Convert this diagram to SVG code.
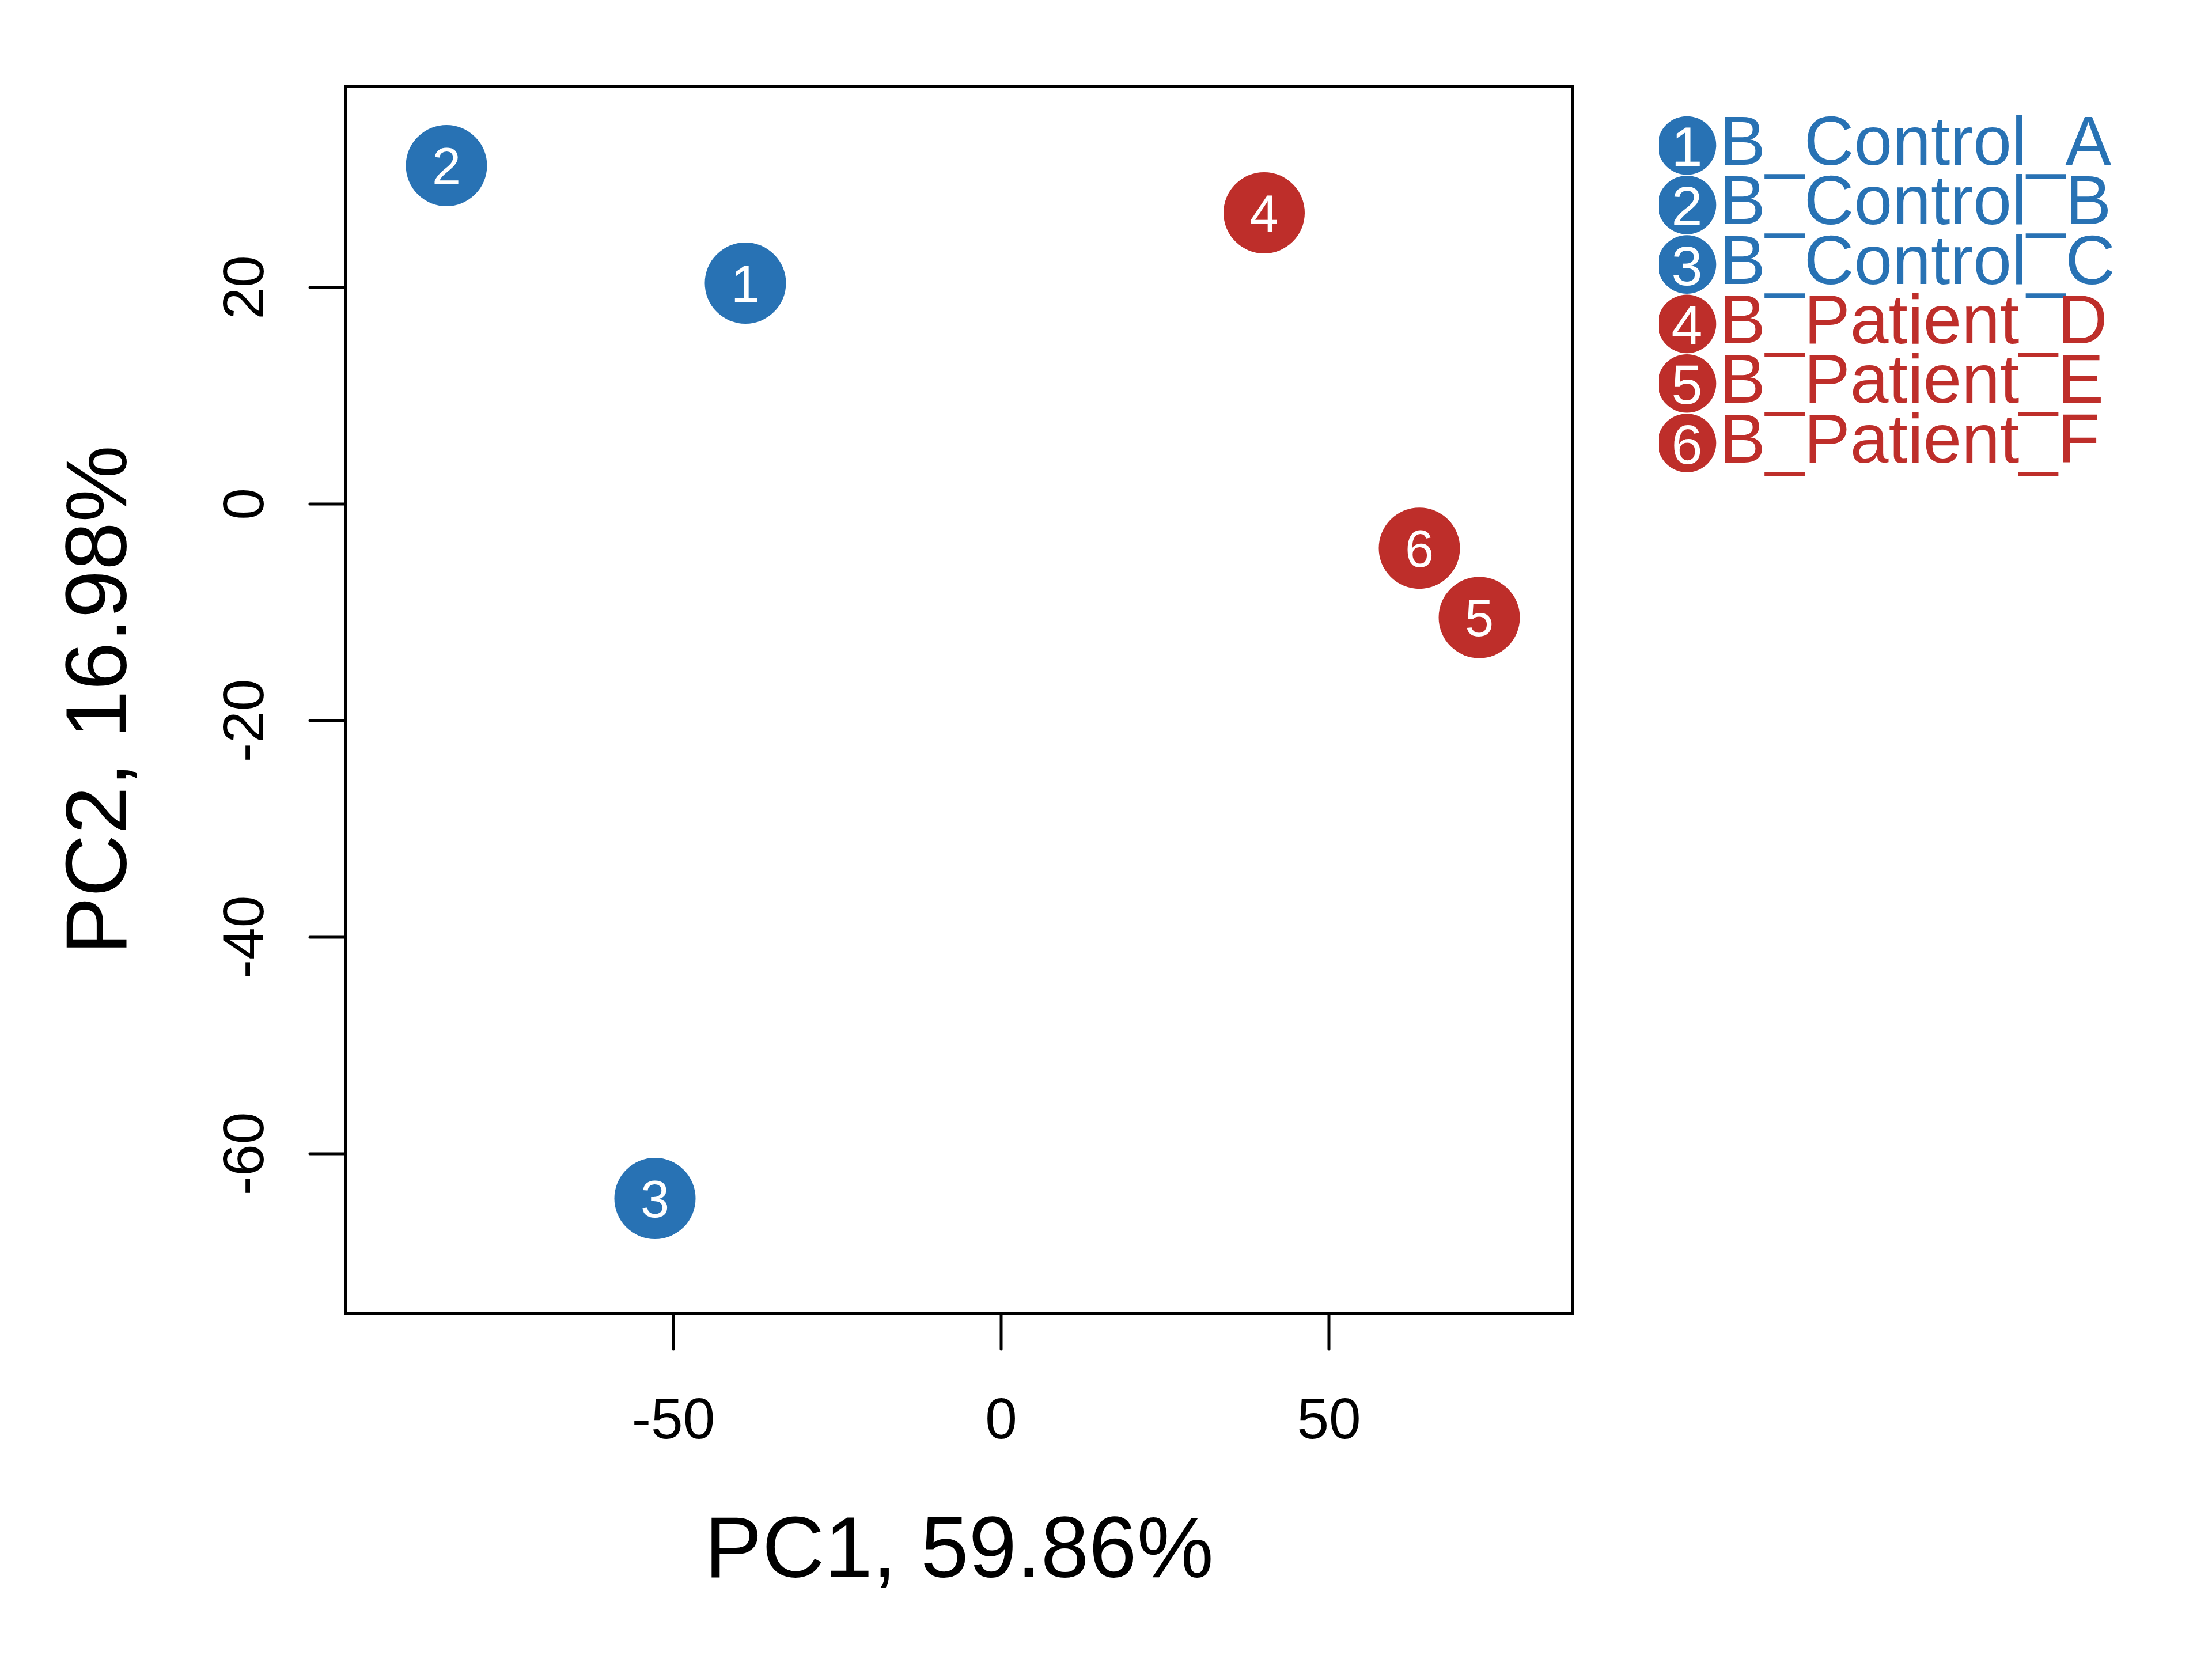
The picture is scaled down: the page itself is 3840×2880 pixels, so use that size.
<svg xmlns="http://www.w3.org/2000/svg" width="3840" height="2880" viewBox="0 0 3840 2880">
<style>
text{font-family:"Liberation Sans",Arial,Helvetica,sans-serif}
.ax{fill:none;stroke:#000;stroke-width:6}
.tk{stroke:#000;stroke-width:5;stroke-linecap:round}
.tl{font-size:100px;fill:#000;text-anchor:middle}
.tt{font-size:150px;fill:#000;text-anchor:middle}
.blue{fill:#2872B4}
.red{fill:#BE2E2A}
.pl{font-size:90px;fill:#fff;text-anchor:middle}
.ll{font-size:97px;fill:#fff;text-anchor:middle}
.lt{font-size:120px}
</style>
<defs>
<clipPath id="legclip"><rect x="2880" y="0" width="960" height="2880"/></clipPath>
</defs>
<rect x="0" y="0" width="3840" height="2880" fill="#fff"/>
<g id="axes">
<rect class="ax" x="600" y="150" width="2130" height="2130"/>
<line class="tk" x1="1169" y1="2280" x2="1169" y2="2342"/>
<line class="tk" x1="1738" y1="2280" x2="1738" y2="2342"/>
<line class="tk" x1="2307" y1="2280" x2="2307" y2="2342"/>
<text class="tl" x="1169" y="2497">-50</text>
<text class="tl" x="1738" y="2497">0</text>
<text class="tl" x="2307" y="2497">50</text>
<line class="tk" x1="600" y1="499" x2="538" y2="499"/>
<line class="tk" x1="600" y1="875" x2="538" y2="875"/>
<line class="tk" x1="600" y1="1251" x2="538" y2="1251"/>
<line class="tk" x1="600" y1="1627" x2="538" y2="1627"/>
<line class="tk" x1="600" y1="2003" x2="538" y2="2003"/>
<text class="tl" transform="translate(457,499) rotate(-90)">20</text>
<text class="tl" transform="translate(457,875) rotate(-90)">0</text>
<text class="tl" transform="translate(457,1251) rotate(-90)">-20</text>
<text class="tl" transform="translate(457,1627) rotate(-90)">-40</text>
<text class="tl" transform="translate(457,2003) rotate(-90)">-60</text>
<text class="tt" x="1665" y="2738">PC1, 59.86%</text>
<text class="tt" transform="translate(219,1215) rotate(-90)">PC2, 16.98%</text>
</g>
<g id="connectors"></g>
<g id="p1"><circle class="blue" cx="1294" cy="491.5" r="70.5"/><text class="pl" x="1294" y="523.5">1</text></g>
<g id="p2"><circle class="blue" cx="775" cy="287.5" r="70.5"/><text class="pl" x="775" y="319.5">2</text></g>
<g id="p3"><circle class="blue" cx="1137" cy="2080.5" r="70.5"/><text class="pl" x="1137" y="2112.5">3</text></g>
<g id="p4"><circle class="red" cx="2194.5" cy="369.5" r="70.5"/><text class="pl" x="2194.5" y="401.5">4</text></g>
<g id="p5"><circle class="red" cx="2568" cy="1072" r="70.5"/><text class="pl" x="2568" y="1104">5</text></g>
<g id="p6"><circle class="red" cx="2464" cy="951.7" r="70.5"/><text class="pl" x="2464" y="983.7">6</text></g>
<g id="legend">
<g id="leg1"><circle class="blue" cx="2928.5" cy="252.5" r="50.8" clip-path="url(#legclip)"/><text class="ll" x="2928.5" y="288">1</text><text class="lt blue" x="2985" y="286">B_Control_A</text></g>
<g id="leg2"><circle class="blue" cx="2928.5" cy="355.8" r="50.8" clip-path="url(#legclip)"/><text class="ll" x="2928.5" y="391.3">2</text><text class="lt blue" x="2985" y="389.3">B_Control_B</text></g>
<g id="leg3"><circle class="blue" cx="2928.5" cy="459.1" r="50.8" clip-path="url(#legclip)"/><text class="ll" x="2928.5" y="494.6">3</text><text class="lt blue" x="2985" y="492.6">B_Control_C</text></g>
<g id="leg4"><circle class="red" cx="2928.5" cy="562.4" r="50.8" clip-path="url(#legclip)"/><text class="ll" x="2928.5" y="597.9">4</text><text class="lt red" x="2985" y="595.9">B_Patient_D</text></g>
<g id="leg5"><circle class="red" cx="2928.5" cy="665.7" r="50.8" clip-path="url(#legclip)"/><text class="ll" x="2928.5" y="701.2">5</text><text class="lt red" x="2985" y="699.2">B_Patient_E</text></g>
<g id="leg6"><circle class="red" cx="2928.5" cy="769" r="50.8" clip-path="url(#legclip)"/><text class="ll" x="2928.5" y="804.5">6</text><text class="lt red" x="2985" y="802.5">B_Patient_F</text></g>
</g>
</svg>
